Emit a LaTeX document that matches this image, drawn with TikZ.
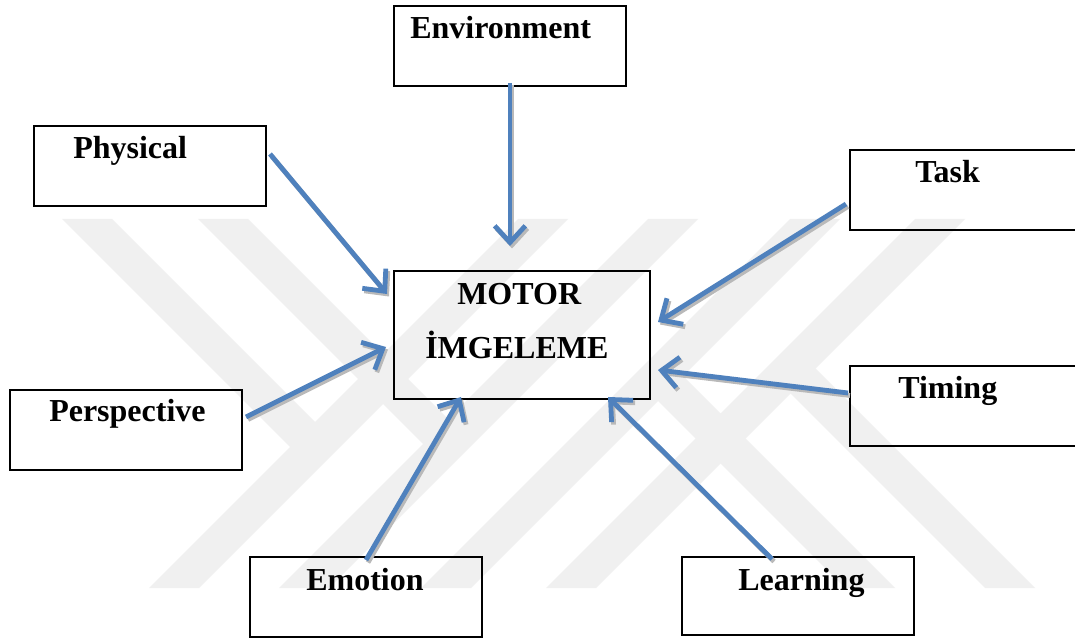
\documentclass[tikz,border=0pt]{standalone}
\usepackage{fontspec}
\setmainfont{Liberation Serif}
\usetikzlibrary{arrows.meta}
\definecolor{arrowblue}{RGB}{79,129,189}
\definecolor{shadowgray}{RGB}{185,185,185}
\definecolor{wmgray}{RGB}{240,240,240}
\newcommand\shadowarrow[2]{%
  \draw[arrshadow] ([shift={(2,2.5)}]#1) -- ([shift={(2,2.5)}]#2);
  \draw[arr] (#1) -- (#2);}
\begin{document}
\begin{tikzpicture}[x=0.75pt,y=-0.75pt,
  wm/.style={fill=wmgray,draw=none},
  box/.style={draw=black,line width=1.6pt,rectangle,inner sep=0pt},
  lbl/.style={font=\fontsize{24pt}{28pt}\selectfont\bfseries,inner sep=0pt,anchor=base west},
  arr/.style={draw=arrowblue,line width=3.6pt,-{Straight Barb[length=12.5pt,width=23pt]}},
  arrshadow/.style={draw=shadowgray,line width=3.6pt,-{Straight Barb[length=12.5pt,width=23pt]}}]
\useasboundingbox (0,0) rectangle (1075,641);
\fill[white] (0,0) rectangle (1075,641);
% watermark
\fill[wm] (518,219)--(568,219)--(199,588)--(149,588)--cycle;
\fill[wm] (648,219)--(698,219)--(329,588)--(279,588)--cycle;
\fill[wm] (790,219)--(840,219)--(471,588)--(421,588)--cycle;
\fill[wm] (915,219)--(965,219)--(596,588)--(546,588)--cycle;
\fill[wm] (62,219)--(112,219)--(327.5,434.5)--(302.5,459.5)--cycle;
\fill[wm] (198,219)--(248,219)--(460.5,431.5)--(435.5,456.5)--cycle;
\fill[wm] (985,588)--(1035,588)--(803,356)--(778,381)--cycle;
\fill[wm] (845,588)--(895,588)--(670.5,363.5)--(645.5,388.5)--cycle;
% boxes
\node[box,minimum width=174pt,minimum height=60pt] (env) at (510,46) {};
\node[box,minimum width=174pt,minimum height=60pt] (phys) at (150,166) {};
\node[box,minimum width=174pt,minimum height=60pt] (task) at (966,190) {};
\node[box,minimum width=192pt,minimum height=96pt] (motor) at (522,335) {};
\node[box,minimum width=174pt,minimum height=60pt] (persp) at (126,430) {};
\node[box,minimum width=174pt,minimum height=60pt] (timing) at (966,406) {};
\node[box,minimum width=174pt,minimum height=60pt] (emotion) at (366,597) {};
\node[box,minimum width=174pt,minimum height=58.5pt] (learning) at (798,596) {};
% labels
\node[lbl] (envtxt) at (410,39) {Environment};
\node[lbl] (phystxt) at (73,159) {Physical};
\node[lbl] (tasktxt) at (915,183) {Task};
\node[lbl] (motortxt) at (457,305) {MOTOR};
\node[lbl] (imgtxt) at (425,359) {İMGELEME};
\node[lbl] (persptxt) at (49,422) {Perspective};
\node[lbl] (timingtxt) at (898,399) {Timing};
\node[lbl] (emotiontxt) at (306,590) {Emotion};
\node[lbl] (learningtxt) at (738,590) {Learning};
% arrow end points
\coordinate (envT) at (510,83);   \coordinate (envH) at (510,246);
\coordinate (physT) at (270,154); \coordinate (physH) at (387,294);
\coordinate (taskT) at (846,204); \coordinate (taskH) at (658,322);
\coordinate (timT) at (848,393);  \coordinate (timH) at (658,370);
\coordinate (learnT) at (772,559); \coordinate (learnH) at (608,397);
\coordinate (emoT) at (366,560);  \coordinate (emoH) at (461,397);
\coordinate (perT) at (246,417);  \coordinate (perH) at (386,347);
% arrows
\shadowarrow{envT}{envH}
\shadowarrow{physT}{physH}
\shadowarrow{taskT}{taskH}
\shadowarrow{timT}{timH}
\shadowarrow{learnT}{learnH}
\shadowarrow{emoT}{emoH}
\shadowarrow{perT}{perH}
\end{tikzpicture}
\end{document}
